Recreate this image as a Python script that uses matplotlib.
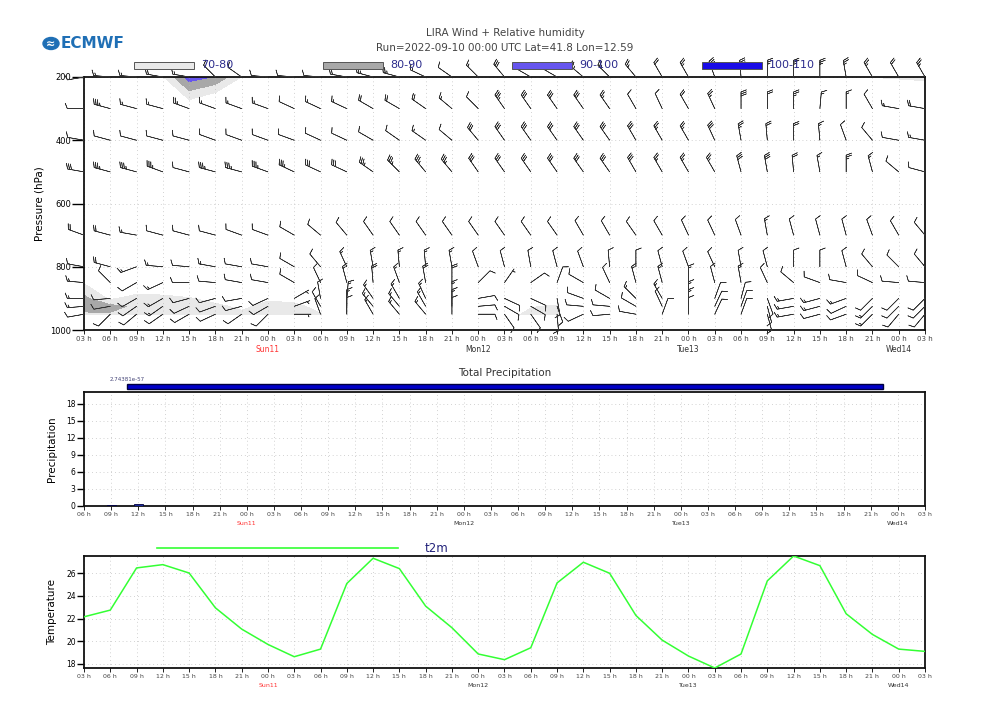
import numpy as np
import matplotlib.pyplot as plt
from matplotlib.patches import Rectangle, Ellipse
from matplotlib.lines import Line2D

# hours since 2022-09-10 03 UTC (one step every 3 h)
hours = [0, 3, 6, 9, 12, 15, 18, 21, 24, 27, 30, 33, 36, 39, 42, 45, 48,
         51, 54, 57, 60, 63, 66, 69, 72, 75, 78, 81, 84, 87, 90, 93, 96]
day_hours = [21, 45, 69, 93]
day_labels = ['Sun11', 'Mon12', 'Tue13', 'Wed14']
levels = [200, 300, 400, 500, 700, 800, 850, 900, 925, 950]

# wind direction (deg, blowing from) and speed (kt) for each level
wdir_200 = [260, 275, 275, 280, 280, 315, 305, 275, 275, 275, 280, 285, 285, 295, 305, 315,
            320, 300, 300, 310, 315, 320, 330, 330, 340, 355, 360, 360, 360, 350, 330, 330, 330]
wspd_200 = [10, 15, 15, 20, 15, 10, 10, 10, 10, 10, 20, 25, 25, 15, 10, 15,
            30, 20, 20, 25, 25, 25, 20, 25, 30, 30, 25, 25, 25, 25, 25, 20, 25]
wdir_300 = [270, 285, 285, 285, 290, 290, 290, 290, 295, 295, 295, 300, 300, 305, 310, 315,
            325, 325, 325, 325, 325, 330, 335, 330, 335, 360, 360, 360, 5, 360, 330, 280, 280]
wspd_300 = [10, 35, 15, 15, 25, 15, 15, 15, 10, 15, 15, 20, 20, 20, 15, 10,
            35, 30, 30, 30, 25, 10, 10, 20, 25, 30, 20, 25, 15, 15, 10, 15, 20]
wdir_400 = [280, 285, 285, 285, 285, 290, 290, 290, 290, 295, 295, 300, 305, 305, 310, 320,
            325, 325, 325, 325, 325, 330, 330, 330, 335, 350, 355, 360, 355, 340, 320, 280, 280]
wspd_400 = [10, 10, 10, 10, 10, 10, 10, 10, 10, 10, 10, 10, 10, 15, 10, 30,
            30, 30, 30, 30, 30, 30, 25, 25, 30, 25, 20, 20, 15, 10, 10, 10, 15]
wdir_500 = [280, 285, 285, 290, 285, 285, 285, 290, 295, 295, 295, 305, 315, 320, 320, 325,
            325, 325, 325, 325, 325, 330, 330, 330, 330, 345, 350, 355, 350, 360, 345, 310, 285]
wspd_500 = [30, 35, 35, 35, 10, 35, 35, 35, 35, 30, 30, 35, 35, 35, 35, 30,
            30, 30, 30, 30, 30, 30, 25, 25, 25, 30, 30, 20, 15, 25, 15, 10, 10]
wdir_700 = [290, 285, 280, 285, 285, 285, 290, 290, 300, 310, 320, 325, 325, 325, 325, 325,
            325, 325, 325, 330, 330, 325, 330, 335, 335, 340, 350, 345, 345, 345, 340, 330, 320]
wspd_700 = [20, 20, 15, 10, 10, 10, 10, 10, 10, 10, 10, 10, 10, 10, 10, 10,
            10, 10, 10, 10, 10, 10, 10, 10, 10, 10, 15, 10, 10, 10, 10, 10, 10]
wdir_800 = [280, 285, 250, 275, 275, 280, 280, 280, 300, 320, 335, 350, 355, 355, 350, 340,
            345, 350, 345, 340, 355, 360, 345, 340, 335, 350, 345, 360, 360, 345, 320, 315, 320]
wspd_800 = [10, 20, 15, 15, 10, 15, 10, 10, 10, 10, 15, 15, 15, 15, 15, 10,
            10, 10, 10, 10, 10, 10, 10, 10, 10, 10, 10, 10, 10, 10, 10, 10, 10]
wdir_850 = [275, 315, 240, 245, 270, 275, 280, 280, 300, 335, 345, 355, 340, 350, 360, 45,
            35, 55, 20, 300, 335, 345, 345, 360, 345, 350, 335, 310, 290, 280, 295, 275, 275]
wspd_850 = [15, 10, 10, 15, 10, 10, 10, 10, 10, 10, 15, 20, 15, 20, 20, 10,
            5, 10, 10, 10, 10, 15, 15, 15, 10, 15, 10, 10, 10, 10, 10, 10, 10]
wdir_900 = [270, 265, 240, 240, 255, 255, 260, 245, 60, 350, 5, 325, 330, 335, 360, 80,
            115, 115, 170, 290, 300, 315, 330, 360, 20, 15, 160, 260, 255, 250, 225, 225, 225]
wspd_900 = [15, 10, 10, 15, 10, 10, 10, 10, 5, 10, 15, 15, 15, 15, 15, 10,
            10, 10, 10, 10, 10, 15, 15, 15, 10, 10, 10, 15, 15, 15, 10, 10, 10]
wdir_925 = [265, 260, 235, 235, 245, 250, 255, 240, 70, 330, 360, 320, 320, 330, 360, 85,
            120, 120, 160, 275, 275, 300, 335, 360, 25, 20, 165, 260, 255, 245, 225, 225, 225]
wspd_925 = [15, 10, 10, 15, 10, 10, 10, 10, 5, 10, 15, 15, 15, 15, 15, 10,
            10, 10, 10, 10, 10, 10, 10, 15, 10, 10, 10, 15, 15, 10, 15, 10, 10]
wdir_950 = [260, 225, 230, 235, 240, 245, 235, 225, 90, 340, 360, 330, 320, 320, 360, 90,
            145, 145, 175, 245, 265, 280, 20, 360, 25, 20, 165, 260, 255, 250, 225, 220, 220]
wspd_950 = [10, 10, 10, 10, 10, 10, 10, 10, 5, 10, 10, 15, 15, 15, 10, 10,
            10, 10, 10, 10, 10, 10, 10, 10, 10, 10, 10, 15, 10, 10, 15, 10, 10]

# relative humidity (%) for each level
rh_200 = [40, 45, 50, 69, 95, 89, 69.5, 55, 50, 45, 45, 45, 45, 45, 45, 45,
          45, 45, 45, 45, 45, 45, 45, 45, 45, 45, 45, 45, 55, 60, 70.3, 72, 74]
rh_300 = [35, 40, 40, 45, 60, 50, 40, 35, 35, 35, 35, 35, 35, 35, 35, 35,
          35, 35, 35, 35, 35, 35, 35, 35, 35, 35, 35, 35, 40, 40, 40, 40, 40]
rh_400 = [30, 30, 30, 30, 30, 30, 30, 30, 30, 30, 30, 30, 30, 30, 30, 30,
          30, 30, 30, 30, 30, 30, 30, 30, 30, 30, 30, 30, 30, 30, 30, 30, 30]
rh_500 = [30, 30, 30, 30, 30, 30, 30, 30, 30, 30, 30, 30, 30, 30, 30, 30,
          30, 30, 30, 30, 30, 30, 30, 30, 30, 30, 30, 30, 30, 30, 30, 30, 30]
rh_700 = [40, 40, 40, 40, 40, 40, 40, 40, 40, 40, 40, 40, 40, 40, 40, 40,
          40, 40, 40, 40, 40, 40, 40, 40, 40, 40, 40, 40, 40, 40, 40, 40, 40]
rh_800 = [55, 50, 50, 50, 45, 45, 45, 45, 45, 45, 40, 40, 40, 40, 40, 40,
          40, 40, 40, 40, 40, 40, 40, 40, 40, 40, 40, 40, 40, 40, 40, 40, 40]
rh_850 = [69, 50, 55, 55, 50, 45, 45, 50, 50, 45, 40, 40, 40, 40, 40, 40,
          40, 40, 40, 40, 40, 40, 40, 40, 40, 40, 40, 40, 40, 40, 40, 40, 40]
rh_900 = [82.75, 68, 75, 74, 71, 65, 55, 68, 66, 55, 45, 45, 45, 45, 45, 45,
          45, 50, 55, 40, 40, 40, 40, 40, 40, 40, 40, 40, 40, 40, 40, 40, 40]
rh_925 = [85, 83, 78, 76, 75, 73, 67, 74, 73, 66, 55, 50, 50, 50, 50, 50,
          60, 69, 72, 40, 40, 40, 40, 40, 40, 40, 40, 40, 40, 40, 40, 40, 40]
rh_950 = [78, 79, 76, 75, 74, 74, 73, 74, 73, 70.5, 60, 55, 55, 55, 55, 55,
          65, 73, 73, 40, 40, 40, 40, 40, 40, 40, 40, 40, 40, 40, 40, 40, 40]

# total precipitation (mm) and 2m temperature (C)
precip = [0, 0, 0.1, 0.3, 0, 0, 0, 0, 0, 0, 0, 0, 0.05, 0, 0, 0,
          0, 0, 0, 0, 0, 0, 0, 0, 0, 0, 0, 0, 0, 0, 0, 0, 0]
t2m = [22.15, 22.74, 26.45, 26.74, 26.0, 22.94, 21.07, 19.72, 18.64, 19.31, 25.08,
       27.3, 26.39, 23.09, 21.19, 18.88, 18.38, 19.43, 25.13, 26.95, 25.98, 22.27,
       20.1, 18.7, 17.65, 18.88, 25.31, 27.5, 26.65, 22.42, 20.6, 19.31, 19.11]

rh_colors = ['#e9e9e9', '#a8a8a8', '#6655ee', '#1a0ce6']
rh_bounds = [70, 80, 90, 100, 110]
rh_labels = ['70-80', '80-90', '90-100', '100-110']

wdir = [wdir_200, wdir_300, wdir_400, wdir_500, wdir_700, wdir_800, wdir_850, wdir_900, wdir_925, wdir_950]
wspd = [wspd_200, wspd_300, wspd_400, wspd_500, wspd_700, wspd_800, wspd_850, wspd_900, wspd_925, wspd_950]
rh = np.array([rh_200, rh_300, rh_400, rh_500, rh_700, rh_800, rh_850, rh_900, rh_925, rh_950])

grid_kw = dict(color='#b8b8b8', linestyle=(0, (1, 4)), linewidth=0.55)


def time_axis(ax, start, size, day_size):
    ticks = [h for h in hours if h >= start]
    ax.set_xlim(start, 96)
    ax.set_xticks(ticks)
    ax.set_xticklabels([f'{(h + 3) % 24:02d} h' for h in ticks], fontsize=size, color='#444444')
    ax.tick_params(axis='x', length=3, width=0.6, pad=1.5)
    for h, lab in zip(day_hours, day_labels):
        ax.annotate(lab, xy=(h, 0), xycoords=('data', 'axes fraction'), xytext=(0, -10.5),
                    textcoords='offset points', ha='center', va='top', fontsize=day_size,
                    color='#ff3333' if lab.startswith('Sun') else '#333333')
    for s in ax.spines.values():
        s.set_linewidth(1.3)
        s.set_color('#111111')


fig = plt.figure(figsize=(10, 7.07), dpi=100)

# ---- wind + relative humidity
ax1 = fig.add_axes([0.084, 0.5332, 0.841, 0.3579])
ax1.contourf(hours, levels, rh, levels=rh_bounds, colors=rh_colors, zorder=1)
T, P = np.meshgrid(hours, levels)
d = np.radians(np.array(wdir, dtype=float))
s = np.array(wspd, dtype=float)
U = -s * np.sin(d)
V = -s * np.cos(d)
ax1.barbs(T, P, U, V, length=4.9, linewidth=0.45, color='#333333', clip_on=False, zorder=3,
          sizes=dict(spacing=0.12, height=0.32, emptybarb=0.0))
ax1.set_ylim(1000, 200)
ax1.set_yticks([200, 400, 600, 800, 1000])
ax1.tick_params(axis='y', length=9, width=1.0, labelsize=6, pad=0)
time_axis(ax1, 0, 5, 5.5)
ax1.grid(True, zorder=0, **grid_kw)
fig.text(0.040, 0.712, 'Pressure (hPa)', rotation=90, ha='center', va='center', fontsize=7.5)

# humidity legend
for x0, col, lab in zip([134, 323, 512, 702], rh_colors, rh_labels):
    fig.add_artist(Rectangle((x0 / 1000, 1 - 68.5 / 707), 60 / 1000, 6.5 / 707,
                             transform=fig.transFigure, facecolor=col, edgecolor='#555555', lw=0.7))
    fig.text((x0 + 67) / 1000, 1 - 65 / 707, lab, ha='left', va='center', fontsize=8, color='#2b2b8c')

fig.text(0.505, 1 - 33 / 707, 'LIRA Wind + Relative humidity', ha='center', va='center',
         fontsize=7.5, color='#444444')
fig.text(0.505, 1 - 48 / 707, 'Run=2022-09-10 00:00 UTC Lat=41.8 Lon=12.59', ha='center',
         va='center', fontsize=7.5, color='#444444')

# ECMWF logo
fig.add_artist(Ellipse((51 / 1000, 1 - 43.5 / 707), 16 / 1000, 12 / 707,
                       transform=fig.transFigure, color='#1f6fb5'))
fig.text(51 / 1000, 1 - 43.5 / 707, '≈', ha='center', va='center', fontsize=8,
         color='white', fontweight='bold')
fig.text(61 / 1000, 1 - 43.5 / 707, 'ECMWF', ha='left', va='center', fontsize=11,
         color='#1f6fb5', fontweight='bold')

# ---- precipitation
ax2 = fig.add_axes([0.084, 0.2843, 0.841, 0.1612])
ph = [h for h, p in zip(hours, precip) if p > 0]
pv = [p for p in precip if p > 0]
ax2.bar(ph, pv, width=1.0, color='#1c2a9c', edgecolor='#000040', linewidth=0.6, zorder=3)
ax2.set_ylim(0, 20.1)
ax2.set_yticks([0, 3, 6, 9, 12, 15, 18])
ax2.tick_params(axis='y', length=5, width=1.0, labelsize=5.5, pad=1)
time_axis(ax2, 3, 4.5, 4.5)
ax2.grid(True, zorder=0, **grid_kw)
fig.text(0.052, 0.365, 'Precipitation', rotation=90, ha='center', va='center', fontsize=7.5)
fig.text(0.505, 1 - 373 / 707, 'Total Precipitation', ha='center', va='center',
         fontsize=7.5, color='#333333')
fig.add_artist(Rectangle((127 / 1000, 1 - 389 / 707), 756 / 1000, 5.5 / 707,
                         transform=fig.transFigure, facecolor='#0000c8', edgecolor='#000040', lw=1.0))
fig.text(110 / 1000, 1 - 379.5 / 707, '2.74381e-57', ha='left', va='center', fontsize=4,
         color='#444477')

# ---- 2m temperature
ax3 = fig.add_axes([0.084, 0.0552, 0.841, 0.1584])
ax3.plot(hours, t2m, color='#33ff33', linewidth=1.1, zorder=3)
ax3.set_ylim(min(t2m), max(t2m))
ax3.set_yticks([18, 20, 22, 24, 26])
ax3.tick_params(axis='y', length=5, width=1.0, labelsize=5.5, pad=1)
time_axis(ax3, 0, 4.5, 4.5)
ax3.grid(True, zorder=0, **grid_kw)
fig.text(0.052, 0.1344, 'Temperature', rotation=90, ha='center', va='center', fontsize=7.5)
fig.add_artist(Line2D([157 / 1000, 398 / 1000], [1 - 548 / 707] * 2, transform=fig.transFigure,
                      color='#33ff33', linewidth=1.2))
fig.text(437 / 1000, 1 - 548 / 707, 't2m', ha='center', va='center', fontsize=8.5, color='#22227a')

fig.savefig('out.png', dpi=100)
